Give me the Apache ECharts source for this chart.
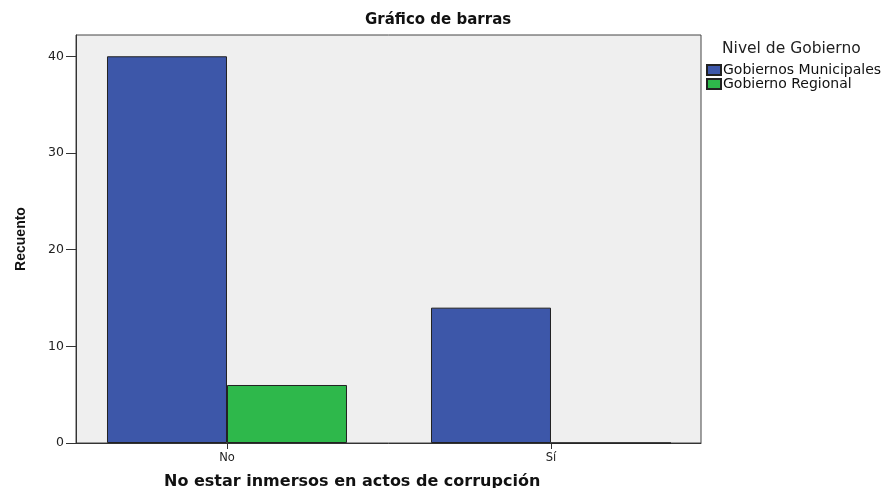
<!DOCTYPE html>
<html>
<head>
<meta charset="utf-8">
<script src="https://cdn.jsdelivr.net/npm/echarts@6/dist/echarts.min.js"></script>
<style>
  html, body { margin: 0; padding: 0; background: #fff; }
  #chart { width: 891px; height: 488px; }
</style>
</head>
<body>
<div id="chart"></div>
<script>
const categories = ['No', 'Sí']
const municipales = [40, 14]
const regional = [6, 0]
const yTicks = [0, 10, 20, 30, 40]

const font = '"DejaVu Sans", Arial, sans-serif'

// category index used as x position, so the tick sits between the paired bars
function toPoints(values) {
  return values.map((v, i) => [i, v])
}

const chart = echarts.init(document.getElementById('chart'))
chart.setOption({
  animation: false,
  title: [
    {
      text: 'Gráfico de barras',
      left: 365, top: 13, padding: 0,
      textStyle: { fontFamily: font, fontSize: 15, fontWeight: 'bold', color: '#111' },
    },
    {
      text: 'No estar inmersos en actos de corrupción',
      left: 164, top: 474, padding: 0,
      textStyle: { fontFamily: font, fontSize: 16, fontWeight: 'bold', color: '#111' },
    },
    {
      text: 'Nivel de Gobierno',
      left: 722, top: 41, padding: 0,
      textStyle: { fontFamily: font, fontSize: 15.5, fontWeight: 'normal', color: '#222' },
    },
  ],
  legend: {
    orient: 'vertical',
    left: 701, top: 58,
    itemWidth: 14, itemHeight: 10, itemGap: 0,
    icon: 'rect',
    textStyle: { fontFamily: font, fontSize: 14, lineHeight: 10, color: '#111', padding: [0, 0, 0, -3] },
  },
  grid: {
    left: 76, top: 35, width: 625, height: 408,
    show: true, backgroundColor: '#efefef', borderColor: '#444', borderWidth: 1,
  },
  xAxis: {
    type: 'value',
    min: -0.466, max: 1.463,
    splitLine: { show: false },
    axisLine: { show: true, onZero: false, lineStyle: { color: '#333' } },
    axisTick: { show: true, customValues: [0, 1], length: 6, lineStyle: { color: '#333' } },
    axisLabel: {
      customValues: [0, 1], margin: 9,
      fontFamily: font, fontSize: 11.5, color: '#222',
      formatter: v => categories[Math.round(v)],
    },
  },
  yAxis: {
    type: 'value',
    min: 0, max: 42.2,
    name: 'Recuento',
    nameLocation: 'middle', nameGap: 48, nameRotate: 90,
    nameTextStyle: { fontFamily: '"Liberation Sans Narrow", Arial, sans-serif', fontSize: 14, fontWeight: 'bold', color: '#111' },
    splitLine: { show: false },
    axisLine: { show: true, onZero: false, lineStyle: { color: '#333' } },
    axisTick: { show: true, customValues: yTicks, length: 10, lineStyle: { color: '#333' } },
    axisLabel: { customValues: yTicks, margin: 12, fontFamily: font, fontSize: 12.5, color: '#222' },
  },
  series: [
    {
      name: 'Gobiernos Municipales',
      type: 'bar',
      data: toPoints(municipales),
      barWidth: 120, barGap: '0%',
      itemStyle: { color: '#3d57a9', borderColor: '#222', borderWidth: 1 },
    },
    {
      name: 'Gobierno Regional',
      type: 'bar',
      data: toPoints(regional),
      barWidth: 120, barGap: '0%',
      itemStyle: { color: '#2eb84b', borderColor: '#222', borderWidth: 1 },
    },
  ],
})
</script>
</body>
</html>
